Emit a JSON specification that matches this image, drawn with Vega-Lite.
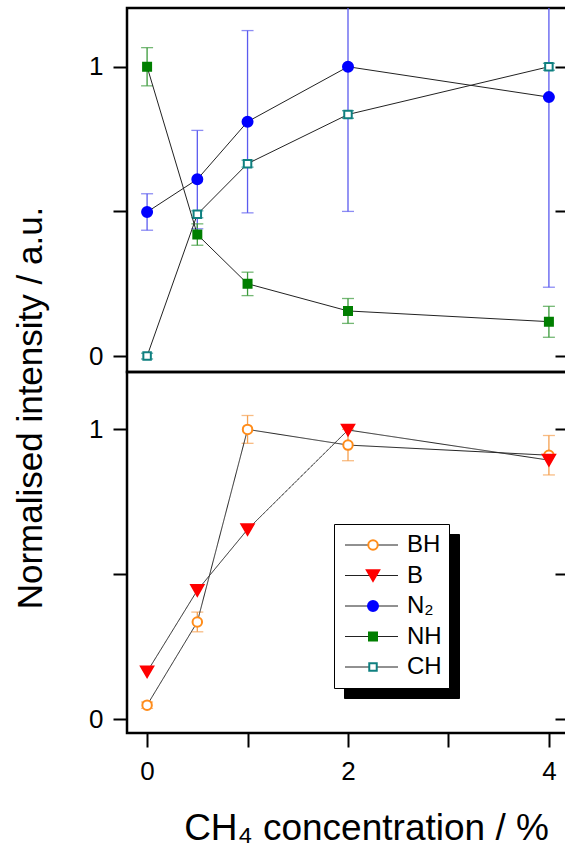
{
  "$schema": "https://vega.github.io/schema/vega-lite/v6.json",
  "padding": {"left": 14, "top": 6, "right": 0, "bottom": 0},
  "spacing": 0,
  "bounds": "flush",
  "title": {"text": "Normalised intensity / a.u.", "orient": "left", "anchor": "middle", "fontSize": 35, "font": "Liberation Sans", "fontWeight": "normal", "color": "black", "offset": 38, "dx": 19},
  "datasets": {
    "points": [
      {"panel": "top", "series": "N₂", "x": 0, "y": 0.498, "lo": 0.435, "hi": 0.561},
      {"panel": "top", "series": "N₂", "x": 0.5, "y": 0.611, "lo": 0.44, "hi": 0.78},
      {"panel": "top", "series": "N₂", "x": 1, "y": 0.81, "lo": 0.495, "hi": 1.125},
      {"panel": "top", "series": "N₂", "x": 2, "y": 1.0, "lo": 0.5, "hi": 1.5},
      {"panel": "top", "series": "N₂", "x": 4, "y": 0.895, "lo": 0.238, "hi": 1.55},
      {"panel": "top", "series": "NH", "x": 0, "y": 1.0, "lo": 0.934, "hi": 1.066},
      {"panel": "top", "series": "NH", "x": 0.5, "y": 0.42, "lo": 0.383, "hi": 0.457},
      {"panel": "top", "series": "NH", "x": 1, "y": 0.25, "lo": 0.209, "hi": 0.29},
      {"panel": "top", "series": "NH", "x": 2, "y": 0.156, "lo": 0.113, "hi": 0.199},
      {"panel": "top", "series": "NH", "x": 4, "y": 0.119, "lo": 0.065, "hi": 0.172},
      {"panel": "top", "series": "CH", "x": 0, "y": 0.0, "lo": -0.01, "hi": 0.01},
      {"panel": "top", "series": "CH", "x": 0.5, "y": 0.49, "lo": 0.478, "hi": 0.502},
      {"panel": "top", "series": "CH", "x": 1, "y": 0.665, "lo": 0.653, "hi": 0.677},
      {"panel": "top", "series": "CH", "x": 2, "y": 0.835, "lo": 0.822, "hi": 0.848},
      {"panel": "top", "series": "CH", "x": 4, "y": 1.0, "lo": 0.988, "hi": 1.012},
      {"panel": "bottom", "series": "BH", "x": 0, "y": 0.049, "lo": 0.038, "hi": 0.06},
      {"panel": "bottom", "series": "BH", "x": 0.5, "y": 0.336, "lo": 0.302, "hi": 0.37},
      {"panel": "bottom", "series": "BH", "x": 1, "y": 1.0, "lo": 0.952, "hi": 1.048},
      {"panel": "bottom", "series": "BH", "x": 2, "y": 0.946, "lo": 0.892, "hi": 1.0},
      {"panel": "bottom", "series": "BH", "x": 4, "y": 0.911, "lo": 0.843, "hi": 0.979},
      {"panel": "bottom", "series": "B", "x": 0, "y": 0.164, "lo": null, "hi": null},
      {"panel": "bottom", "series": "B", "x": 0.5, "y": 0.445, "lo": null, "hi": null},
      {"panel": "bottom", "series": "B", "x": 1, "y": 0.655, "lo": null, "hi": null},
      {"panel": "bottom", "series": "B", "x": 2, "y": 0.998, "lo": null, "hi": null},
      {"panel": "bottom", "series": "B", "x": 4, "y": 0.894, "lo": null, "hi": null}
    ]
  },
  "config": {
    "font": "Liberation Sans",
    "view": {"stroke": "black", "strokeWidth": 2.5},
    "axis": {
      "domain": false, "grid": false, "tickColor": "black", "tickWidth": 2, "tickSize": 14,
      "labelColor": "black", "labelFontSize": 26, "labelFont": "Liberation Sans",
      "titleFont": "Liberation Sans", "titleFontWeight": "normal", "titleColor": "black"
    },
    "legend": {"labelFont": "Liberation Sans", "labelColor": "black", "orient": "none", "legendX": 225, "legendY": 516,
      "padding": 9, "rowPadding": 6.5, "labelFontSize": 24, "labelOffset": 22, "symbolStrokeWidth": 2, "zindex": 3}
  },
  "vconcat": [
    {
      "width": 442, "height": 364,
      "data": {"name": "points"},
      "transform": [{"filter": "datum.panel == 'top'"}],
      "resolve": {"axis": {"y": "independent"}},
      "layer": [
        {
          "transform": [{"filter": "isValid(datum.lo)"}],
          "mark": {"type": "rule", "strokeWidth": 1.3, "clip": true},
          "encoding": {
            "x": {"field": "x", "type": "quantitative", "scale": {"domain": [-0.2, 4.2], "nice": false}, "axis": null},
            "y": {"field": "lo", "type": "quantitative", "scale": {"domain": [-0.055, 1.203], "nice": false, "zero": false}, "axis": null},
            "y2": {"field": "hi"},
            "color": {"field": "series", "type": "nominal", "legend": null,
              "scale": {"domain": ["NH", "CH", "BH", "B", "N₂"], "range": ["#3a9a3a", "#0f8080", "#f5a050", "#ff0000", "#5b5bef"]}}
          }
        },
        {
          "transform": [{"filter": "isValid(datum.lo)"}],
          "mark": {"type": "tick", "orient": "horizontal", "size": 12, "thickness": 1.3, "clip": true},
          "encoding": {
            "x": {"field": "x", "type": "quantitative", "axis": null},
            "y": {"field": "lo", "type": "quantitative", "axis": null},
            "color": {"field": "series", "type": "nominal", "legend": null}
          }
        },
        {
          "transform": [{"filter": "isValid(datum.hi)"}],
          "mark": {"type": "tick", "orient": "horizontal", "size": 12, "thickness": 1.3, "clip": true},
          "encoding": {
            "x": {"field": "x", "type": "quantitative", "axis": null},
            "y": {"field": "hi", "type": "quantitative", "axis": null},
            "color": {"field": "series", "type": "nominal", "legend": null}
          }
        },
        {
          "mark": {"type": "line", "color": "#222222", "strokeWidth": 1},
          "encoding": {
            "x": {"field": "x", "type": "quantitative", "axis": null},
            "y": {"field": "y", "type": "quantitative",
              "axis": {"values": [0, 0.5, 1], "labelExpr": "datum.value == 0.5 ? '' : (datum.value == 0 ? '0' : '1')", "labelPadding": 10, "title": null}},
            "detail": {"field": "series", "type": "nominal"}
          }
        },
        {
          "mark": {"type": "point", "filled": true, "strokeWidth": 2, "opacity": 1},
          "encoding": {
            "x": {"field": "x", "type": "quantitative", "axis": null},
            "y": {"field": "y", "type": "quantitative",
              "axis": {"orient": "right", "values": [0, 0.5, 1], "labels": false, "tickSize": -14, "title": null}},
            "fill": {"field": "series", "type": "nominal", "legend": {"title": null},
              "scale": {"domain": ["BH", "B", "N₂", "NH", "CH"], "range": ["#ffffff", "#ff0000", "#0000ff", "#007f00", "#ffffff"]}},
            "stroke": {"field": "series", "type": "nominal", "legend": {"title": null},
              "scale": {"domain": ["BH", "B", "N₂", "NH", "CH"], "range": ["#ff8c1a", "#ff0000", "#0000ff", "#007f00", "#0f8080"]}},
            "shape": {"field": "series", "type": "nominal", "legend": {"title": null},
              "scale": {"domain": ["BH", "B", "N₂", "NH", "CH"], "range": ["circle", "triangle-down", "circle", "square", "square"]}},
            "size": {"field": "series", "type": "nominal", "legend": {"title": null},
              "scale": {"type": "ordinal", "domain": ["BH", "B", "N₂", "NH", "CH"], "range": [90, 150, 100, 64, 56]}}
          }
        }
      ]
    },
    {
      "width": 442, "height": 361,
      "data": {"name": "points"},
      "transform": [{"filter": "datum.panel == 'bottom'"}],
      "resolve": {"axis": {"y": "independent"}},
      "layer": [
        {
          "transform": [{"filter": "isValid(datum.lo)"}],
          "mark": {"type": "rule", "strokeWidth": 1.3, "clip": true},
          "encoding": {
            "x": {"field": "x", "type": "quantitative", "scale": {"domain": [-0.2, 4.2], "nice": false},
              "axis": {"values": [0, 1, 2, 3, 4], "format": "d", "labelExpr": "datum.value % 2 == 0 ? datum.label : ''", "labelPadding": 11,
                "title": "CH₄ concentration / %", "titleFontSize": 37, "titleX": 239, "titleY": 106, "titleAlign": "center", "titleBaseline": "alphabetic"}},
            "y": {"field": "lo", "type": "quantitative", "scale": {"domain": [-0.047, 1.198], "nice": false, "zero": false}, "axis": null},
            "y2": {"field": "hi"},
            "color": {"field": "series", "type": "nominal", "legend": null,
              "scale": {"domain": ["NH", "CH", "BH", "B", "N₂"], "range": ["#3a9a3a", "#0f8080", "#f5a050", "#ff0000", "#5b5bef"]}}
          }
        },
        {
          "transform": [{"filter": "isValid(datum.lo)"}],
          "mark": {"type": "tick", "orient": "horizontal", "size": 12, "thickness": 1.3, "clip": true},
          "encoding": {
            "x": {"field": "x", "type": "quantitative"},
            "y": {"field": "lo", "type": "quantitative", "axis": null},
            "color": {"field": "series", "type": "nominal", "legend": null}
          }
        },
        {
          "transform": [{"filter": "isValid(datum.hi)"}],
          "mark": {"type": "tick", "orient": "horizontal", "size": 12, "thickness": 1.3, "clip": true},
          "encoding": {
            "x": {"field": "x", "type": "quantitative"},
            "y": {"field": "hi", "type": "quantitative", "axis": null},
            "color": {"field": "series", "type": "nominal", "legend": null}
          }
        },
        {
          "mark": {"type": "line", "color": "#222222", "strokeWidth": 1},
          "encoding": {
            "x": {"field": "x", "type": "quantitative"},
            "y": {"field": "y", "type": "quantitative",
              "axis": {"values": [0, 0.5, 1], "labelExpr": "datum.value == 0.5 ? '' : (datum.value == 0 ? '0' : '1')", "labelPadding": 10, "title": null}},
            "strokeDash": {"field": "series", "type": "nominal",
              "scale": {"domain": ["B", "BH", "CH", "NH", "N₂"], "range": [[1, 0], [1, 0], [1, 0], [1, 0], [1, 0]]},
              "legend": {"title": null, "orient": "none", "legendX": 207, "legendY": 516, "padding": 9, "rowPadding": 6.5,
                "labelFontSize": 24, "labelOffset": 38, "labelOpacity": 0, "symbolType": "M-1,0H4.3", "symbolSize": 400,
                "symbolStrokeColor": "#222222", "symbolStrokeWidth": 1, "fillColor": "white", "strokeColor": "black", "zindex": 2}},
            "opacity": {"field": "series", "type": "nominal",
              "scale": {"domain": ["CH", "NH", "N₂", "B", "BH"], "range": [1, 1, 1, 1, 1]},
              "legend": {"title": null, "orient": "none", "legendX": 217, "legendY": 526, "padding": 9, "rowPadding": 6.5,
                "labelFontSize": 24, "labelOffset": 38, "labelColor": "black", "symbolSize": 400,
                "symbolFillColor": "black", "symbolStrokeColor": "black", "fillColor": "black", "strokeColor": "black", "zindex": 1}}
          }
        },
        {
          "mark": {"type": "point", "filled": true, "strokeWidth": 2, "opacity": 1},
          "encoding": {
            "x": {"field": "x", "type": "quantitative"},
            "y": {"field": "y", "type": "quantitative",
              "axis": {"orient": "right", "values": [0, 0.5, 1], "labels": false, "tickSize": -14, "title": null}},
            "fill": {"field": "series", "type": "nominal", "legend": {"title": null},
              "scale": {"domain": ["BH", "B", "N₂", "NH", "CH"], "range": ["#ffffff", "#ff0000", "#0000ff", "#007f00", "#ffffff"]}},
            "stroke": {"field": "series", "type": "nominal", "legend": {"title": null},
              "scale": {"domain": ["BH", "B", "N₂", "NH", "CH"], "range": ["#ff8c1a", "#ff0000", "#0000ff", "#007f00", "#0f8080"]}},
            "shape": {"field": "series", "type": "nominal", "legend": {"title": null},
              "scale": {"domain": ["BH", "B", "N₂", "NH", "CH"], "range": ["circle", "triangle-down", "circle", "square", "square"]}},
            "size": {"field": "series", "type": "nominal", "legend": {"title": null},
              "scale": {"type": "ordinal", "domain": ["BH", "B", "N₂", "NH", "CH"], "range": [90, 150, 100, 64, 56]}}
          }
        }
      ]
    }
  ]
}
